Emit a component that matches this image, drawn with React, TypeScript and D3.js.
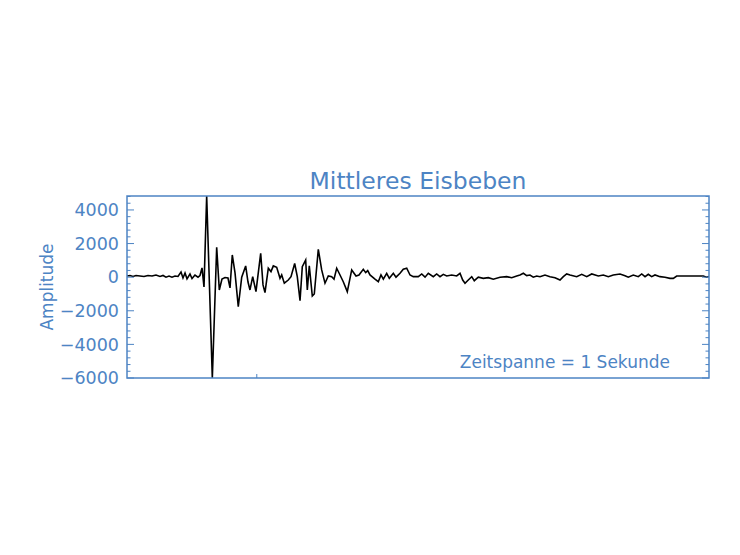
import React from "react";
import * as d3 from "d3";

const title = "Mittleres Eisbeben";
const yLabel = "Amplitude";
const note = "Zeitspanne = 1 Sekunde";

// time in ms (0..1000 spans the whole plot)
const timeMs = [
  0, 5.2, 10.3, 15.5, 22.3, 29.2, 36.1, 43.0, 49.8, 56.7, 61.9, 67.0, 72.2, 77.3, 82.5, 87.6,
  92.8, 96.2, 99.7, 103.1, 108.2, 111.7, 116.8, 122.0, 125.4, 128.9, 132.3, 136.9, 146.6,
  154.1, 158.6, 163.2, 168.4, 173.5, 177.0, 180.9, 185.6, 191.2, 197.1, 203.9, 207.9, 211.3,
  216.0, 221.6, 229.7, 233.7, 237.1, 242.8, 247.4, 251.4, 257.2, 262.9, 265.8, 270.3, 277.1,
  281.8, 288.1, 292.6, 297.3, 301.2, 307.0, 309.8, 313.2, 318.4, 321.8, 328.7, 334.5, 340.2,
  345.9, 351.7, 355.7, 360.3, 366.0, 371.6, 378.5, 386.1, 393.5, 398.6, 406.0, 410.1, 413.6,
  417.5, 426.1, 431.8, 436.4, 440.4, 446.2, 450.7, 457.6, 462.2, 469.1, 474.7, 480.6, 486.3,
  491.9, 500.5, 506.4, 512.1, 517.7, 526.3, 532.1, 537.8, 543.5, 549.3, 557.9, 566.5, 572.2,
  576.8, 580.8, 586.4, 592.3, 596.7, 603.6, 612.2, 620.8, 629.4, 640.9, 652.4, 661.0, 669.6,
  675.3, 681.0, 686.8, 692.4, 698.1, 704.0, 709.6, 718.2, 726.8, 735.4, 744.0, 749.7, 755.5,
  761.2, 772.7, 781.3, 789.9, 798.5, 809.8, 818.4, 827.0, 835.6, 847.1, 855.7, 861.3, 869.9,
  878.5, 884.4, 890.1, 895.7, 901.5, 907.2, 915.8, 924.4, 933.0, 938.7, 944.5, 955.8, 967.4,
  978.9, 990.2, 996.0, 1000,
];

const amplitude = [
  70, 100, 40, 100, 70, 40, 100, 70, 130, 40, 100, 0, 70, 0, 70, 40,
  310, -50, 250, -100, 190, -80, 130, 0, 100, 550, -580, 4830, -6000,
  1780, -760, -110, -20, -50, -640, 1320, 250, -1760, 0, 670, -290, -760,
  30, -860, 1420, -460, -920, 530, 330, 670, 590, -70, 130, -360, -170,
  30, 815, 30, -1400, 625, 1020, -760, 670, -1120, -1000, 1660, 430, -360,
  70, 30, -120, 530, 130, -270, -860, 430, 70, 130, 470, 270, 390,
  130, -120, -270, 130, -120, 230, -70, 230, 0, 230, 470, 530, 130,
  30, 30, 190, 0, 230, 30, 190, 30, 170, 70, 130, 70, 230,
  -170, -360, -170, 30, -210, 0, -70, -30, -120, 0, 30, -30, 70,
  130, 230, 90, 130, 0, 70, 30, 130, 30, -30, -170, 30, 190,
  130, 30, 170, 30, 190, 70, 130, 30, 130, 190, 90, 0, 130,
  30, 190, 30, 170, 30, 130, 30, 0, -70, -70, 70, 70, 70,
  70, 70, 0, 40,
];

const yTickValues = [4000, 2000, 0, -2000, -4000, -6000];
const xTickValues = [223];

const BLUE = "#4d84c4";
const FONT = "DejaVu Sans, sans-serif";

export default function App() {
  const left = 127, right = 709, top = 196, bottom = 378;
  const x = d3.scaleLinear().domain([0, 1000]).range([left, right]);
  const y = d3.scaleLinear().domain([-6000, 4830]).range([bottom, top]);

  const pts: [number, number][] = timeMs.map((t, i) => [t, amplitude[i]]);
  const line = d3
    .line<[number, number]>()
    .x((d) => x(d[0]))
    .y((d) => y(d[1]));

  const minorTicks = d3.range(-6000, 4831, 400);

  return (
    <svg
      width={740}
      height={555}
      style={{ position: "absolute", left: 0, top: 0, background: "#fff" }}
    >
      <text
        x={(left + right) / 2}
        y={189}
        textAnchor="middle"
        fontFamily={FONT}
        fontSize={23.5}
        fill={BLUE}
      >
        {title}
      </text>
      <defs>
        <clipPath id="plotclip">
          <rect x={left} y={top} width={right - left} height={bottom - top} />
        </clipPath>
      </defs>
      <path
        d={line(pts) || ""}
        fill="none"
        stroke="#000"
        strokeWidth={1.6}
        strokeLinejoin="miter"
        clipPath="url(#plotclip)"
      />
      {minorTicks.map((v) => {
        const major = yTickValues.includes(v);
        const len = major ? 7 : 3.5;
        return (
          <g key={v}>
            <line x1={left} x2={left + len} y1={y(v)} y2={y(v)} stroke={BLUE} strokeWidth={1} />
            <line x1={right} x2={right - len} y1={y(v)} y2={y(v)} stroke={BLUE} strokeWidth={1} />
          </g>
        );
      })}
      {xTickValues.map((v) => (
        <line key={v} x1={x(v)} x2={x(v)} y1={bottom} y2={bottom - 4} stroke={BLUE} strokeWidth={1} />
      ))}
      <rect
        x={left}
        y={top}
        width={right - left}
        height={bottom - top}
        fill="none"
        stroke={BLUE}
        strokeWidth={1.5}
      />
      {yTickValues.map((v) => (
        <text
          key={v}
          x={left - 8}
          y={y(v)}
          dy="0.36em"
          textAnchor="end"
          fontFamily={FONT}
          fontSize={17.5}
          fill={BLUE}
        >
          {v < 0 ? "\u2212" + Math.abs(v) : String(v)}
        </text>
      ))}
      <text
        transform={`translate(53, ${287}) rotate(-90)`}
        textAnchor="middle"
        fontFamily={FONT}
        fontSize={17}
        fill={BLUE}
      >
        {yLabel}
      </text>
      <text
        x={670}
        y={368}
        textAnchor="end"
        fontFamily={FONT}
        fontSize={17}
        fill={BLUE}
      >
        {note}
      </text>
    </svg>
  );
}
